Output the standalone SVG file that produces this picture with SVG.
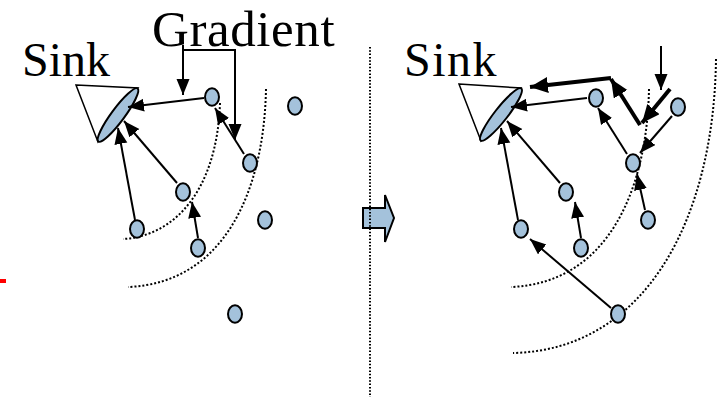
<svg xmlns="http://www.w3.org/2000/svg" width="724" height="397" viewBox="0 0 724 397">
<defs>
<style>
.node{fill:#A4C2DB;stroke:#000;stroke-width:2}
.cone{fill:#fff;stroke:#000;stroke-width:1.5;stroke-linejoin:miter}
.lbl{font-family:"Liberation Serif","Times New Roman",serif;fill:#000}
.arc{fill:none;stroke:#000;stroke-width:2;stroke-dasharray:2 2}
.thin{fill:none;stroke:#000;stroke-width:2;marker-end:url(#ah)}
.thick{fill:none;stroke:#000;stroke-width:4;marker-end:url(#ahb)}
.grad{fill:none;stroke:#000;stroke-width:2}
</style>
<marker id="ah" markerUnits="userSpaceOnUse" markerWidth="18" markerHeight="14" refX="16" refY="6.5" orient="auto">
<path d="M0,0 L16,6.5 L0,13 z" fill="#000"/>
</marker>
<marker id="ahb" markerUnits="userSpaceOnUse" markerWidth="20" markerHeight="18" refX="18" refY="8" orient="auto">
<path d="M0,0 L18,8 L0,16 z" fill="#000"/>
</marker>
</defs>
<rect width="724" height="397" fill="#fff"/>
<rect x="0" y="279" width="6" height="4" fill="#f00"/>

<!-- dotted arcs -->
<g id="arcs">
<path class="arc" d="M220,103 C217,190 175,236 123,239"/>
<path class="arc" d="M266,89 C264,190 225,283 128,287"/>
<path class="arc" d="M649,89 C647,190 608,283 511,287"/>
<path class="arc" d="M716,59 C714,220 645,350 513,353"/>
</g>

<!-- block arrow and divider -->
<g id="transition">
<polygon points="363,208 385,208 385,195 394,218 385,242 385,228 363,228" fill="#A4C2DB" stroke="#000" stroke-width="2" stroke-linejoin="miter"/>
</g>
<line x1="370" y1="47" x2="370" y2="397" stroke="#000" stroke-width="2" stroke-dasharray="1.5 1.8"/>

<!-- labels -->
<text class="lbl" x="22" y="76" font-size="48">Sink</text>
<text class="lbl" x="404" y="76" font-size="48" letter-spacing="1.5">Sink</text>
<text class="lbl" x="152" y="46" font-size="51" letter-spacing="0.6">Gradient</text>

<!-- sinks -->
<g id="sink-left">
<polygon class="cone" points="76,85 138,88 98,142"/>
<ellipse class="node" cx="118" cy="115" rx="33" ry="6.5" transform="rotate(-53.5 118 115)"/>
</g>
<g id="sink-right">
<polygon class="cone" points="459,84 521,88 481,141"/>
<ellipse class="node" cx="501" cy="114.5" rx="33" ry="6.5" transform="rotate(-52 501 114.5)"/>
</g>

<!-- connectors -->
<g id="connectors">
<line class="thin" x1="204" y1="98" x2="128" y2="107"/>
<line class="thin" x1="177" y1="183" x2="124" y2="121"/>
<line class="thin" x1="135" y1="220" x2="118" y2="128"/>
<line class="thin" x1="244" y1="154" x2="215" y2="108"/>
<line class="thin" x1="198" y1="238" x2="192" y2="202"/>
<polyline class="grad" points="183,45 183,50 235,50 235,128"/>
<line class="thin" x1="183" y1="50" x2="183" y2="95"/>
<line class="thin" x1="235" y1="125" x2="235" y2="140"/>

<line class="thin" x1="587" y1="98" x2="511" y2="107"/>
<line class="thin" x1="560" y1="183" x2="507" y2="121"/>
<line class="thin" x1="518" y1="220" x2="501" y2="128"/>
<line class="thin" x1="627" y1="154" x2="598" y2="108"/>
<line class="thin" x1="581" y1="238" x2="575" y2="202"/>
<line class="thin" x1="645" y1="210" x2="637" y2="174"/>
<line class="thin" x1="611" y1="308" x2="530" y2="239"/>
<line class="thin" x1="672" y1="116" x2="640" y2="153"/>
<line class="thin" x1="661" y1="46" x2="661" y2="90"/>
<line class="thick" x1="670" y1="89" x2="642" y2="123"/>
<line class="thick" x1="640" y1="125" x2="611" y2="79"/>
<line class="thick" x1="611" y1="78" x2="530" y2="87"/>
</g>

<!-- nodes left -->
<g id="nL1"><ellipse class="node" cx="212" cy="97" rx="7" ry="8.7"/></g>
<g id="nL2"><ellipse class="node" cx="295" cy="106" rx="7" ry="8.7"/></g>
<g id="nL3"><ellipse class="node" cx="250" cy="163" rx="7" ry="8.7"/></g>
<g id="nL4"><ellipse class="node" cx="183" cy="192" rx="7" ry="8.7"/></g>
<g id="nL5"><ellipse class="node" cx="137" cy="229" rx="7" ry="8.7"/></g>
<g id="nL6"><ellipse class="node" cx="198" cy="248" rx="7" ry="8.7"/></g>
<g id="nL7"><ellipse class="node" cx="265" cy="220" rx="7" ry="8.7"/></g>
<g id="nL8"><ellipse class="node" cx="235" cy="314" rx="7" ry="8.7"/></g>
<!-- nodes right -->
<g id="nR1"><ellipse class="node" cx="596" cy="98" rx="7" ry="8.7"/></g>
<g id="nR2"><ellipse class="node" cx="678" cy="107" rx="7" ry="8.7"/></g>
<g id="nR3"><ellipse class="node" cx="633" cy="163" rx="7" ry="8.7"/></g>
<g id="nR4"><ellipse class="node" cx="566" cy="192" rx="7" ry="8.7"/></g>
<g id="nR5"><ellipse class="node" cx="521" cy="229" rx="7" ry="8.7"/></g>
<g id="nR6"><ellipse class="node" cx="581" cy="248" rx="7" ry="8.7"/></g>
<g id="nR7"><ellipse class="node" cx="648" cy="220" rx="7" ry="8.7"/></g>
<g id="nR8"><ellipse class="node" cx="618" cy="314" rx="7" ry="8.7"/></g>
</svg>
